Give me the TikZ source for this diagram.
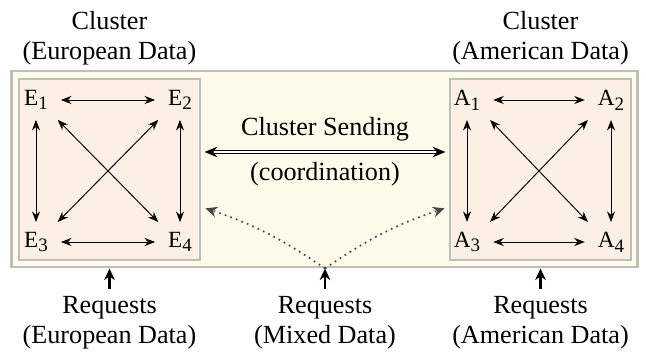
\documentclass[tikz,border=0pt]{standalone}
\usepackage{fontspec}
\setmainfont{Liberation Serif}
\usetikzlibrary{
    positioning,    % For relative node placement
    arrows.meta,    % For Stealth tips
    calc
}
\definecolor{outerfill}{RGB}{254,251,235}
\definecolor{innerfill}{RGB}{252,240,229}
\definecolor{boxgray}{RGB}{190,190,188}
\definecolor{dotgray}{RGB}{70,70,70}
\newcommand{\srv}[2]{#1\raisebox{-0.45ex}{\fontsize{9}{9}\selectfont #2}}

\begin{document}
\begin{tikzpicture}[
    x=0.474pt, y=-0.474pt, % one unit = one pixel of the sketch
    >={Stealth[length=5pt, width=3.8pt]},
    % Styles
    outer_box/.style={ % Style for the data centre frame
        rectangle,
        draw=boxgray,
        line width=1.4pt,
        fill=outerfill,
        minimum width=296.3pt,
        minimum height=92.9pt
    },
    cluster_box/.style={ % Style for one cluster
        rectangle,
        draw=boxgray,
        line width=1.4pt,
        fill=innerfill,
        minimum size=85.8pt
    },
    server/.style={inner sep=4.5pt, font=\fontsize{11}{11}\selectfont},
    link/.style={<->, line width=0.45pt},
    send_arrow/.style={
        {Stealth[length=6pt, width=5pt]}-{Stealth[length=6pt, width=5pt]},
        double, double distance=0.9pt, line width=0.5pt
    },
    mix_arrow/.style={
        -{Stealth[length=5.5pt, width=5pt]}, dotted, dotgray, line width=0.8pt
    },
    req_arrow/.style={
        -{Stealth[length=5.5pt, width=5pt]}, line width=1pt
    },
    label_text/.style={ % Style for descriptive labels
        align=center,
        font=\fontsize{12.4}{14}\selectfont
    }
]
\useasboundingbox (0,0) rectangle (646,352);

% --- Frame and clusters ---
\node[outer_box] (dc) at (324.5,169) {};
\node[cluster_box] (eu) at (109.5,169.5) {};
\node[cluster_box] (us) at (540.5,169.5) {};

% --- Servers and links inside each cluster ---
\foreach \c/\dx in {E/0, A/431} {
    \node[server] (\c1) at (36+\dx,100) {\srv{\c}{1}};
    \node[server] (\c2) at (180+\dx,100) {\srv{\c}{2}};
    \node[server] (\c3) at (36+\dx,242) {\srv{\c}{3}};
    \node[server] (\c4) at (180+\dx,242) {\srv{\c}{4}};
    \draw[link, shorten >=1.5pt, shorten <=1.5pt] (\c1) -- (\c2);
    \draw[link, shorten >=1.5pt, shorten <=1.5pt] (\c3) -- (\c4);
    \draw[link] (\c1) -- (\c3);
    \draw[link] (\c2) -- (\c4);
    \draw[link] (\c1.south east) -- (\c4.north west);
    \draw[link] (\c2.south west) -- (\c3.north east);
}

% --- Cluster sending ---
\coordinate (sendline) at (325,152);
\draw[send_arrow, shorten >=1.5pt, shorten <=1.5pt] (eu.east |- sendline) --
    node[above=1.5pt, label_text] (sendtxt) {Cluster Sending}
    node[below=1.5pt, label_text] (coordtxt) {(coordination)}
    (us.west |- sendline);

% --- Column labels ---
\node[label_text, above=2.5pt of eu] (eutxt) {Cluster\\(European Data)};
\node[label_text, above=2.5pt of us] (ustxt) {Cluster\\(American Data)};

% --- Requests ---
\node[label_text, below=13pt of eu] (reqeu) {Requests\\(European Data)};
\node[label_text, below=13pt of us] (requs) {Requests\\(American Data)};
\node[label_text] (reqmix) at (reqeu -| sendline) {Requests\\(Mixed Data)};
\draw[req_arrow] (reqeu.north) -- (reqeu.north |- dc.south);
\draw[req_arrow] (requs.north) -- (requs.north |- dc.south);
\draw[req_arrow] (reqmix.north) -- (reqmix.north |- dc.south);

% Mixed requests spread to both clusters
\coordinate (mixtop) at (325,207);
\draw[mix_arrow, shorten >=2pt] (reqmix.north |- dc.south) to[bend right=8] (eu.east |- mixtop);
\draw[mix_arrow, shorten >=2pt] (reqmix.north |- dc.south) to[bend left=8] (us.west |- mixtop);

\end{tikzpicture}
\end{document}
